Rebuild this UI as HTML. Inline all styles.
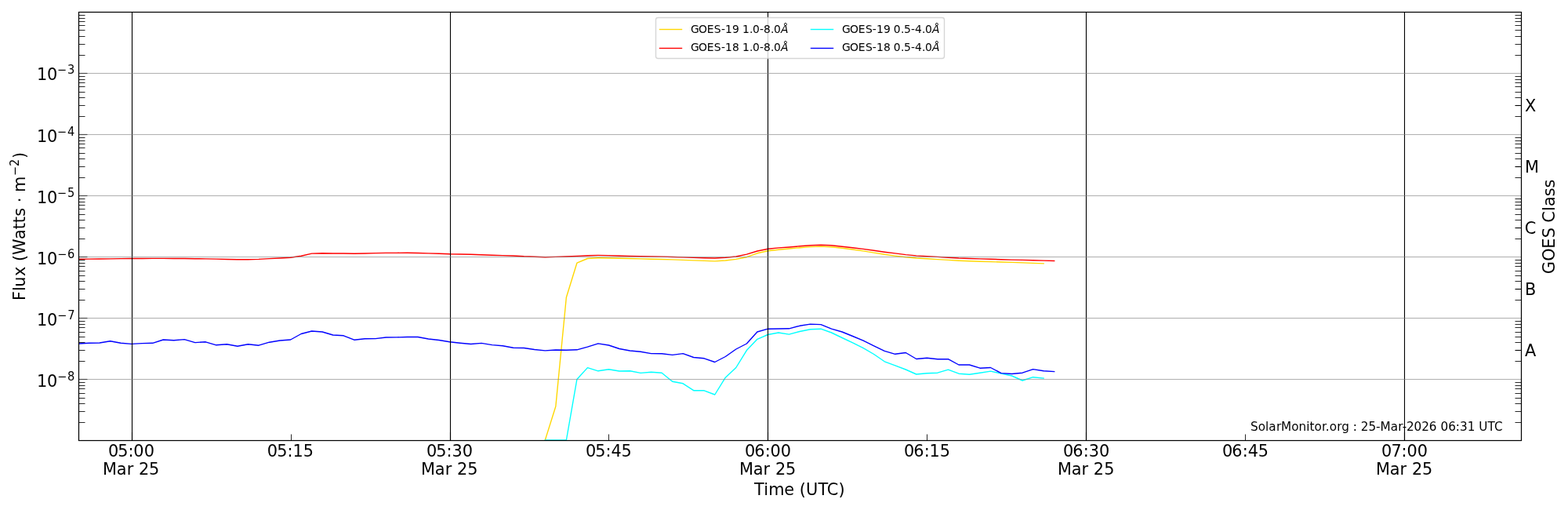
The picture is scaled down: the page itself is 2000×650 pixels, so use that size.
<!DOCTYPE html>
<html lang="en"><head><meta charset="utf-8"><title>GOES X-ray Flux</title>
<style>html,body{margin:0;padding:0;background:#fff}body{width:2000px;height:650px;overflow:hidden}svg{display:block}text{font-family:'DejaVu Sans', 'Liberation Sans', sans-serif;fill:#000}.t15{font-size:20.8333px}.t11{font-size:15.2778px}.t10{font-size:13.8889px}.sup{font-size:14.5833px}</style></head><body>
<svg width="2000" height="650" viewBox="0 0 2000 650">
<rect x="0" y="0" width="2000" height="650" fill="#ffffff"/>
<defs><clipPath id="ax"><rect x="100" y="15" width="1840" height="546.383"/></clipPath></defs>
<g stroke="#000" fill="none">
<g stroke-width="1.111">
<line x1="100.5" y1="483.5" x2="111.5" y2="483.5"/>
<line x1="100.5" y1="405.5" x2="111.5" y2="405.5"/>
<line x1="100.5" y1="327.5" x2="111.5" y2="327.5"/>
<line x1="100.5" y1="249.5" x2="111.5" y2="249.5"/>
<line x1="100.5" y1="171.5" x2="111.5" y2="171.5"/>
<line x1="100.5" y1="93.5" x2="111.5" y2="93.5"/>
</g>
<g stroke-width="1" stroke-opacity="0.84">
<line x1="100.5" y1="538.5" x2="108.5" y2="538.5"/>
<line x1="100.5" y1="524.5" x2="108.5" y2="524.5"/>
<line x1="100.5" y1="514.5" x2="108.5" y2="514.5"/>
<line x1="100.5" y1="507.5" x2="108.5" y2="507.5"/>
<line x1="100.5" y1="501.5" x2="108.5" y2="501.5"/>
<line x1="100.5" y1="495.5" x2="108.5" y2="495.5"/>
<line x1="100.5" y1="491.5" x2="108.5" y2="491.5"/>
<line x1="100.5" y1="487.5" x2="108.5" y2="487.5"/>
<line x1="100.5" y1="460.5" x2="108.5" y2="460.5"/>
<line x1="100.5" y1="446.5" x2="108.5" y2="446.5"/>
<line x1="100.5" y1="436.5" x2="108.5" y2="436.5"/>
<line x1="100.5" y1="429.5" x2="108.5" y2="429.5"/>
<line x1="100.5" y1="423.5" x2="108.5" y2="423.5"/>
<line x1="100.5" y1="417.5" x2="108.5" y2="417.5"/>
<line x1="100.5" y1="413.5" x2="108.5" y2="413.5"/>
<line x1="100.5" y1="409.5" x2="108.5" y2="409.5"/>
<line x1="100.5" y1="382.5" x2="108.5" y2="382.5"/>
<line x1="100.5" y1="368.5" x2="108.5" y2="368.5"/>
<line x1="100.5" y1="358.5" x2="108.5" y2="358.5"/>
<line x1="100.5" y1="351.5" x2="108.5" y2="351.5"/>
<line x1="100.5" y1="345.5" x2="108.5" y2="345.5"/>
<line x1="100.5" y1="339.5" x2="108.5" y2="339.5"/>
<line x1="100.5" y1="335.5" x2="108.5" y2="335.5"/>
<line x1="100.5" y1="331.5" x2="108.5" y2="331.5"/>
<line x1="100.5" y1="304.5" x2="108.5" y2="304.5"/>
<line x1="100.5" y1="290.5" x2="108.5" y2="290.5"/>
<line x1="100.5" y1="280.5" x2="108.5" y2="280.5"/>
<line x1="100.5" y1="273.5" x2="108.5" y2="273.5"/>
<line x1="100.5" y1="266.5" x2="108.5" y2="266.5"/>
<line x1="100.5" y1="261.5" x2="108.5" y2="261.5"/>
<line x1="100.5" y1="257.5" x2="108.5" y2="257.5"/>
<line x1="100.5" y1="253.5" x2="108.5" y2="253.5"/>
<line x1="100.5" y1="226.5" x2="108.5" y2="226.5"/>
<line x1="100.5" y1="212.5" x2="108.5" y2="212.5"/>
<line x1="100.5" y1="202.5" x2="108.5" y2="202.5"/>
<line x1="100.5" y1="195.5" x2="108.5" y2="195.5"/>
<line x1="100.5" y1="188.5" x2="108.5" y2="188.5"/>
<line x1="100.5" y1="183.5" x2="108.5" y2="183.5"/>
<line x1="100.5" y1="179.5" x2="108.5" y2="179.5"/>
<line x1="100.5" y1="175.5" x2="108.5" y2="175.5"/>
<line x1="100.5" y1="148.5" x2="108.5" y2="148.5"/>
<line x1="100.5" y1="134.5" x2="108.5" y2="134.5"/>
<line x1="100.5" y1="124.5" x2="108.5" y2="124.5"/>
<line x1="100.5" y1="117.5" x2="108.5" y2="117.5"/>
<line x1="100.5" y1="110.5" x2="108.5" y2="110.5"/>
<line x1="100.5" y1="105.5" x2="108.5" y2="105.5"/>
<line x1="100.5" y1="101.5" x2="108.5" y2="101.5"/>
<line x1="100.5" y1="97.5" x2="108.5" y2="97.5"/>
<line x1="100.5" y1="70.5" x2="108.5" y2="70.5"/>
<line x1="100.5" y1="56.5" x2="108.5" y2="56.5"/>
<line x1="100.5" y1="46.5" x2="108.5" y2="46.5"/>
<line x1="100.5" y1="38.5" x2="108.5" y2="38.5"/>
<line x1="100.5" y1="32.5" x2="108.5" y2="32.5"/>
<line x1="100.5" y1="27.5" x2="108.5" y2="27.5"/>
<line x1="100.5" y1="23.5" x2="108.5" y2="23.5"/>
<line x1="100.5" y1="19.5" x2="108.5" y2="19.5"/>
<line x1="1932.5" y1="538.5" x2="1940.5" y2="538.5"/>
<line x1="1932.5" y1="524.5" x2="1940.5" y2="524.5"/>
<line x1="1932.5" y1="514.5" x2="1940.5" y2="514.5"/>
<line x1="1932.5" y1="507.5" x2="1940.5" y2="507.5"/>
<line x1="1932.5" y1="501.5" x2="1940.5" y2="501.5"/>
<line x1="1932.5" y1="495.5" x2="1940.5" y2="495.5"/>
<line x1="1932.5" y1="491.5" x2="1940.5" y2="491.5"/>
<line x1="1932.5" y1="487.5" x2="1940.5" y2="487.5"/>
<line x1="1932.5" y1="460.5" x2="1940.5" y2="460.5"/>
<line x1="1932.5" y1="436.5" x2="1940.5" y2="436.5"/>
<line x1="1932.5" y1="429.5" x2="1940.5" y2="429.5"/>
<line x1="1932.5" y1="423.5" x2="1940.5" y2="423.5"/>
<line x1="1932.5" y1="417.5" x2="1940.5" y2="417.5"/>
<line x1="1932.5" y1="413.5" x2="1940.5" y2="413.5"/>
<line x1="1932.5" y1="409.5" x2="1940.5" y2="409.5"/>
<line x1="1932.5" y1="382.5" x2="1940.5" y2="382.5"/>
<line x1="1932.5" y1="358.5" x2="1940.5" y2="358.5"/>
<line x1="1932.5" y1="351.5" x2="1940.5" y2="351.5"/>
<line x1="1932.5" y1="345.5" x2="1940.5" y2="345.5"/>
<line x1="1932.5" y1="339.5" x2="1940.5" y2="339.5"/>
<line x1="1932.5" y1="335.5" x2="1940.5" y2="335.5"/>
<line x1="1932.5" y1="331.5" x2="1940.5" y2="331.5"/>
<line x1="1932.5" y1="304.5" x2="1940.5" y2="304.5"/>
<line x1="1932.5" y1="280.5" x2="1940.5" y2="280.5"/>
<line x1="1932.5" y1="273.5" x2="1940.5" y2="273.5"/>
<line x1="1932.5" y1="266.5" x2="1940.5" y2="266.5"/>
<line x1="1932.5" y1="261.5" x2="1940.5" y2="261.5"/>
<line x1="1932.5" y1="257.5" x2="1940.5" y2="257.5"/>
<line x1="1932.5" y1="253.5" x2="1940.5" y2="253.5"/>
<line x1="1932.5" y1="226.5" x2="1940.5" y2="226.5"/>
<line x1="1932.5" y1="202.5" x2="1940.5" y2="202.5"/>
<line x1="1932.5" y1="195.5" x2="1940.5" y2="195.5"/>
<line x1="1932.5" y1="188.5" x2="1940.5" y2="188.5"/>
<line x1="1932.5" y1="183.5" x2="1940.5" y2="183.5"/>
<line x1="1932.5" y1="179.5" x2="1940.5" y2="179.5"/>
<line x1="1932.5" y1="175.5" x2="1940.5" y2="175.5"/>
<line x1="1932.5" y1="148.5" x2="1940.5" y2="148.5"/>
<line x1="1932.5" y1="124.5" x2="1940.5" y2="124.5"/>
<line x1="1932.5" y1="117.5" x2="1940.5" y2="117.5"/>
<line x1="1932.5" y1="110.5" x2="1940.5" y2="110.5"/>
<line x1="1932.5" y1="105.5" x2="1940.5" y2="105.5"/>
<line x1="1932.5" y1="101.5" x2="1940.5" y2="101.5"/>
<line x1="1932.5" y1="97.5" x2="1940.5" y2="97.5"/>
<line x1="1932.5" y1="70.5" x2="1940.5" y2="70.5"/>
<line x1="1932.5" y1="56.5" x2="1940.5" y2="56.5"/>
<line x1="1932.5" y1="46.5" x2="1940.5" y2="46.5"/>
<line x1="1932.5" y1="38.5" x2="1940.5" y2="38.5"/>
<line x1="1932.5" y1="32.5" x2="1940.5" y2="32.5"/>
<line x1="1932.5" y1="27.5" x2="1940.5" y2="27.5"/>
<line x1="1932.5" y1="23.5" x2="1940.5" y2="23.5"/>
<line x1="1932.5" y1="19.5" x2="1940.5" y2="19.5"/>
<line x1="371.5" y1="553.5" x2="371.5" y2="561.5"/>
<line x1="776.5" y1="553.5" x2="776.5" y2="561.5"/>
<line x1="1182.5" y1="553.5" x2="1182.5" y2="561.5"/>
<line x1="1588.5" y1="553.5" x2="1588.5" y2="561.5"/>
</g>
<g stroke-width="1.111">
<line x1="1932.5" y1="446.5" x2="1940.5" y2="446.5"/>
<line x1="1932.5" y1="368.5" x2="1940.5" y2="368.5"/>
<line x1="1932.5" y1="290.5" x2="1940.5" y2="290.5"/>
<line x1="1932.5" y1="212.5" x2="1940.5" y2="212.5"/>
<line x1="1932.5" y1="134.5" x2="1940.5" y2="134.5"/>
<line x1="168.5" y1="550.5" x2="168.5" y2="561.5"/>
<line x1="574.5" y1="550.5" x2="574.5" y2="561.5"/>
<line x1="979.5" y1="550.5" x2="979.5" y2="561.5"/>
<line x1="1385.5" y1="550.5" x2="1385.5" y2="561.5"/>
<line x1="1791.5" y1="550.5" x2="1791.5" y2="561.5"/>
</g>
</g>
<g clip-path="url(#ax)" fill="none" stroke-width="1.389" stroke-linejoin="round" stroke-linecap="square">
<polyline points="695.294,561 708.823,518 722.353,379 735.882,335.2 749.412,329.5 762.941,328.8 776.471,328.95 790,329.25 803.529,329.55 817.059,329.85 830.588,330.2 844.118,330.5 857.647,330.9 871.176,331.4 884.706,331.9 898.235,332.4 911.765,332.85 925.294,332 938.823,330.4 952.353,327.7 965.882,322.8 979.412,319.7 992.941,318.2 1006.471,317 1020,315.7 1033.529,314.6 1047.059,314.1 1060.588,314.8 1074.118,316.2 1087.647,318 1101.176,319.9 1114.706,322.1 1128.235,324.3 1141.765,326.1 1155.294,327.8 1168.823,329 1182.353,329.8 1195.882,330.6 1209.412,331.4 1222.941,332.2 1236.471,332.8 1250,333.2 1263.529,333.6 1277.059,334 1290.588,334.4 1304.118,334.9 1317.647,335.4 1331.176,335.9" stroke="#ffd700"/>
<polyline points="100,330.3 113.529,330.15 127.059,330 140.588,329.85 154.118,329.675 167.647,329.5 181.176,329.45 194.706,329.4 208.235,329.4 221.765,329.45 235.294,329.55 248.823,329.7 262.353,329.9 275.882,330.1 289.412,330.5 302.941,330.75 316.471,330.75 330,330.35 343.529,329.6 357.059,328.95 370.588,328.2 384.118,326.3 397.647,323.1 411.176,322.7 424.706,323.05 438.235,323 451.765,323.2 465.294,323 478.823,322.6 492.353,322.35 505.882,322.35 519.412,322.2 532.941,322.5 546.471,322.9 560,323.2 573.529,323.8 587.059,324 600.588,324.3 614.118,324.8 627.647,325.2 641.176,325.6 654.706,326 668.235,326.8 681.765,327.3 695.294,327.7 708.823,327.4 722.353,327 735.882,326.4 749.412,325.8 762.941,325.4 776.471,325.6 790,325.95 803.529,326.35 817.059,326.6 830.588,326.9 844.118,327.15 857.647,327.45 871.176,327.85 884.706,328.35 898.235,328.75 911.765,329 925.294,328.3 938.823,326.95 952.353,324.15 965.882,320 979.412,317.2 992.941,315.9 1006.471,315 1020,313.8 1033.529,312.7 1047.059,312.2 1060.588,312.8 1074.118,314.2 1087.647,315.8 1101.176,317.4 1114.706,319.3 1128.235,321.2 1141.765,322.9 1155.294,324.6 1168.823,325.9 1182.353,326.6 1195.882,327.4 1209.412,328.2 1222.941,329 1236.471,329.5 1250,329.9 1263.529,330.3 1277.059,330.7 1290.588,331.1 1304.118,331.4 1317.647,331.7 1331.176,332.1 1344.706,332.5" stroke="#ff0000"/>
<polyline points="695.294,561 708.823,561 722.353,561 735.882,483.5 749.412,468.6 762.941,472.8 776.471,470.7 790,473 803.529,472.8 817.059,475.4 830.588,474.2 844.118,475.2 857.647,486.2 871.176,488.8 884.706,497.7 898.235,497.8 911.765,503 925.294,481.2 938.823,468.5 952.353,446.6 965.882,432.3 979.412,426.5 992.941,424 1006.471,426.1 1020,422.5 1033.529,419.7 1047.059,419.2 1060.588,424 1074.118,430.5 1087.647,436.8 1101.176,443.7 1114.706,451.5 1128.235,460.8 1141.765,465.8 1155.294,471 1168.823,477 1182.353,475.7 1195.882,475.2 1209.412,471.2 1222.941,476.2 1236.471,477.2 1250,475.2 1263.529,473.1 1277.059,476 1290.588,479 1304.118,485 1317.647,480.7 1331.176,482" stroke="#00ffff"/>
<polyline points="100,438 113.529,437.2 127.059,437 140.588,434.8 154.118,437.2 167.647,438.4 181.176,437.6 194.706,437.3 208.235,433 221.765,433.7 235.294,432.6 248.823,436.6 262.353,435.8 275.882,439.8 289.412,438.8 302.941,441.2 316.471,438.8 330,440.2 343.529,436.2 357.059,434 370.588,433 384.118,425.5 397.647,422 411.176,423 424.706,427 438.235,427.8 451.765,433.2 465.294,431.7 478.823,431.6 492.353,430 505.882,429.9 519.412,429.5 532.941,429.5 546.471,432 560,433.5 573.529,435.8 587.059,437.3 600.588,438.5 614.118,437.4 627.647,439.6 641.176,440.7 654.706,443.2 668.235,443.5 681.765,445.5 695.294,446.9 708.823,446 722.353,446.3 735.882,445.8 749.412,442.2 762.941,437.9 776.471,440 790,444.5 803.529,447 817.059,448.3 830.588,450.6 844.118,450.7 857.647,452.4 871.176,450.6 884.706,455.5 898.235,456.8 911.765,461.5 925.294,454.5 938.823,445 952.353,438 965.882,423 979.412,419.2 992.941,419 1006.471,418.8 1020,415.3 1033.529,413.1 1047.059,413.6 1060.588,419.2 1074.118,423 1087.647,428.5 1101.176,434.2 1114.706,440.8 1128.235,447.3 1141.765,451.3 1155.294,449.5 1168.823,457.5 1182.353,456.3 1195.882,457.7 1209.412,457.7 1222.941,465 1236.471,465 1250,469.2 1263.529,468.5 1277.059,475.6 1290.588,476.5 1304.118,475.2 1317.647,470.6 1331.176,472.8 1344.706,473.6" stroke="#0000ff"/>
</g>
<g stroke="#000" stroke-width="1.111" fill="none">
<line x1="168.5" y1="15" x2="168.5" y2="561.383"/>
<line x1="574.5" y1="15" x2="574.5" y2="561.383"/>
<line x1="979.5" y1="15" x2="979.5" y2="561.383"/>
<line x1="1385.5" y1="15" x2="1385.5" y2="561.383"/>
<line x1="1791.5" y1="15" x2="1791.5" y2="561.383"/>
</g>
<g fill="#808080" fill-opacity="0.6">
<rect x="100" y="482.945" width="1840" height="1.111"/>
<rect x="100" y="404.945" width="1840" height="1.111"/>
<rect x="100" y="326.945" width="1840" height="1.111"/>
<rect x="100" y="248.945" width="1840" height="1.111"/>
<rect x="100" y="170.945" width="1840" height="1.111"/>
<rect x="100" y="92.945" width="1840" height="1.111"/>
</g>
<rect x="100.5" y="15.5" width="1840" height="546" fill="none" stroke="#000" stroke-width="1.111"/>
<rect x="100.5" y="15.5" width="1840" height="546" fill="none" stroke="#000" stroke-width="1.111"/>
<text transform="translate(137.647 582.244)"><tspan class="t15" x="0.323 12.645 25.948 32.707 46.067" y="0">05:00</tspan></text>
<text transform="translate(131.46 605.444)"><tspan class="t15" x="-0.566 17.399 30.199 39.25 45.516 58.586" y="0">Mar 25</tspan></text>
<text transform="translate(543.529 582.244)"><tspan class="t15" x="0.538 12.644 26.042 33.025 46.209" y="0">05:30</tspan></text>
<text transform="translate(537.342 605.444)"><tspan class="t15" x="-0.323 17.52 30.326 39.25 45.639 58.835" y="0">Mar 25</tspan></text>
<text transform="translate(949.349 582.244)"><tspan class="t15" x="0.553 12.986 26.294 33.176 46.432" y="0">06:00</tspan></text>
<text transform="translate(943.224 605.444)"><tspan class="t15" x="-0.323 17.644 30.337 39.25 45.776 58.832" y="0">Mar 25</tspan></text>
<text transform="translate(1355.232 582.244)"><tspan class="t15" x="0.801 12.986 26.519 33.462 46.681" y="0">06:30</tspan></text>
<text transform="translate(1349.107 605.444)"><tspan class="t15" x="-0.209 17.765 30.465 39.25 45.776 59.081" y="0">Mar 25</tspan></text>
<text transform="translate(1761.176 582.244)"><tspan class="t15" x="0.801 13.225 26.401 33.204 46.458" y="0">07:00</tspan></text>
<text transform="translate(1754.989 605.444)"><tspan class="t15" x="-0.077 17.886 30.592 39.25 46.023 59.081" y="0">Mar 25</tspan></text>
<text transform="translate(340.588 582.106)"><tspan class="t15" x="0.29 12.644 26.042 33.006 46.145" y="0">05:15</tspan></text>
<text transform="translate(746.471 582.106)"><tspan class="t15" x="0.538 12.768 26.042 33.003 46.145" y="0">05:45</tspan></text>
<text transform="translate(1152.29 582.106)"><tspan class="t15" x="0.677 12.986 26.427 33.331 46.543" y="0">06:15</tspan></text>
<text transform="translate(1558.173 582.106)"><tspan class="t15" x="0.801 13.115 26.519 33.456 46.667" y="0">06:45</tspan></text>
<text transform="translate(962.188 631)"><tspan class="t15" x="-0.119 12.154 17.96 38.155 51.25 57.682 65.802 81.318 92.568 107.332" y="0">Time (UTC)</tspan></text>
<text transform="translate(1595.375 549.363)"><tspan class="t11" x="-0.331 9.366 18.716 22.946 32.51 38.694 51.776 61.222 70.791 75.093 81.041 90.521 95.499 100.366 109.826 115.961 126 130.466 136 140.494 150.187 159.733 165.206 178.259 187.845 193.269 198.544 208.193 217.806 227.485 237.625 242.008 251.767 261.466 266.699 276.253 286.375 290.896 302.082 310.515" y="0">SolarMonitor.org : 25-Mar-2026 06:31 UTC</tspan></text>
<text transform="translate(1944.861 454.087)"><tspan class="t15" x="0.135" y="0">A</tspan></text>
<text transform="translate(1944.861 376.032)"><tspan class="t15" x="0.251" y="0">B</tspan></text>
<text transform="translate(1944.861 297.977)"><tspan class="t15" x="-0.069" y="0">C</tspan></text>
<text transform="translate(1944.861 219.923)"><tspan class="t15" x="0.056" y="0">M</tspan></text>
<text transform="translate(1944.861 141.868)"><tspan class="t15" x="0.09" y="0">X</tspan></text>
<text transform="translate(1984.292 348.379) rotate(-90)"><tspan class="t15" x="-0.824 15.634 31.749 45.071 58.875 64.559 79.464 85.296 98.149 108.942" y="-1">GOES Class</tspan></text>
<text transform="translate(45.857 492.029)"><tspan class="t15" x="1.202 14.131" y="0.955">10</tspan><tspan class="sup" x="27.041" y="-7.084">−</tspan></text>
<text class="sup" transform="translate(85.907 484.944) scale(1 1.1)" x="0" y="0">8</text>
<text transform="translate(45.998 413.974)"><tspan class="t15" x="0.955 13.958" y="0.758">10</tspan><tspan class="sup" x="26.932" y="-7.281">−</tspan></text>
<text class="sup" transform="translate(86.148 406.693) scale(1 1.1)" x="0" y="0">7</text>
<text transform="translate(45.748 335.919)"><tspan class="t15" x="1.202 14.255" y="0.955">10</tspan><tspan class="sup" x="27.171" y="-7.084">−</tspan></text>
<text class="sup" transform="translate(85.998 328.835) scale(1 1.1)" x="0" y="0">6</text>
<text transform="translate(46.107 257.864)"><tspan class="t15" x="0.955 13.834" y="0.758">10</tspan><tspan class="sup" x="26.672" y="-7.281">−</tspan></text>
<text class="sup" transform="translate(85.933 250.583) scale(1 1.1)" x="0" y="0">5</text>
<text transform="translate(45.716 179.81)"><tspan class="t15" x="1.333 14.255" y="0.758">10</tspan><tspan class="sup" x="27.171" y="-7.281">−</tspan></text>
<text class="sup" transform="translate(86.004 172.528) scale(1 1.1)" x="0" y="0">4</text>
<text transform="translate(46.107 101.755)"><tspan class="t15" x="0.955 13.834" y="-0.045">10</tspan><tspan class="sup" x="26.672" y="-8.084">−</tspan></text>
<text class="sup" transform="translate(86.078 93.67) scale(1 1.1)" x="0" y="0">3</text>
<text transform="translate(34.361 383.092) rotate(-90)"><tspan class="t15" x="-0.021 12.101 17.261 31.095 43.391 50.04 58.022 78.144 90.955 98.908 107.219 118.849 125.215 132.12 138.001" y="-2.045">Flux (Watts ⋅ m</tspan><tspan class="sup" x="158.964" y="-10.084">−</tspan><tspan class="t15" x="181.124" y="-2.045">)</tspan></text>
<text class="sup" transform="translate(23.776 211.944) rotate(-90) scale(1 1.05)" x="0" y="0">2</text>
<rect x="836.5" y="22.5" width="368" height="52" rx="2.78" ry="2.78" fill="#ffffff" fill-opacity="0.8" stroke="#cccccc" stroke-opacity="0.8" stroke-width="1.3889"/>
<g fill="none" stroke-width="1.3889">
<line x1="840.8" y1="37.5" x2="870.2" y2="37.5" stroke="#ffd700"/>
<line x1="840.8" y1="61.5" x2="870.2" y2="61.5" stroke="#ff0000"/>
<line x1="1033.8" y1="37.5" x2="1063.2" y2="37.5" stroke="#00ffff"/>
<line x1="1033.8" y1="61.5" x2="1063.2" y2="61.5" stroke="#0000ff"/>
</g>
<text transform="translate(880.122 42)"><tspan class="t10" x="0.802 10.988 21.741 30.755 39.861 44.897 53.83 61.909 66.929 75.863 79.83 88.772 93.987 102.936 106.902" y="0">GOES-19 1.0-8.0</tspan><tspan class="t10" x="116.007" y="0" font-style="italic">Å</tspan></text>
<text transform="translate(880.122 65.944)"><tspan class="t10" x="0.802 10.988 21.741 30.755 39.861 44.897 54.003 61.909 66.929 75.863 79.83 88.772 93.983 102.936 106.902" y="-1">GOES-18 1.0-8.0</tspan><tspan class="t10" x="116.007" y="-1" font-style="italic">Å</tspan></text>
<text transform="translate(1072.778 42)"><tspan class="t10" x="1.168 11.253 22.08 31.146 40.089 45.331 54.295 61.909 67.086 76.151 80.166 89.137 94.271 103.224 107.133" y="0">GOES-19 0.5-4.0</tspan><tspan class="t10" x="116.299" y="0" font-style="italic">Å</tspan></text>
<text transform="translate(1072.778 65.944)"><tspan class="t10" x="1.168 11.253 22.08 31.146 40.089 45.331 54.335 61.909 67.086 76.151 80.166 89.137 94.271 103.224 107.133" y="-1">GOES-18 0.5-4.0</tspan><tspan class="t10" x="116.299" y="-1" font-style="italic">Å</tspan></text>
</svg>
</body></html>
